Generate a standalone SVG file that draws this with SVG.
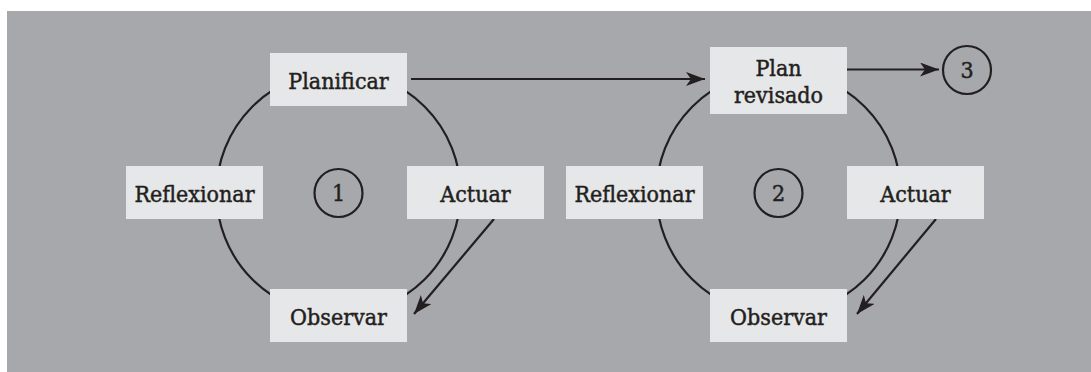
<svg xmlns="http://www.w3.org/2000/svg" width="1091" height="372" viewBox="0 0 1091 372">
<style>
.box{fill:#e6e7e8;}
.t{font-family:"DejaVu Serif Condensed","DejaVu Serif",serif;font-stretch:condensed;font-size:23px;fill:#231f20;stroke:#231f20;stroke-width:0.45;text-anchor:middle;}
.ring{fill:none;stroke:#231f20;stroke-width:2.2;}
.num{fill:none;stroke:#231f20;stroke-width:2.2;}
.arr{fill:none;stroke:#231f20;stroke-width:2.2;marker-end:url(#ah);}
</style>
<defs>
<marker id="ah" markerUnits="userSpaceOnUse" markerWidth="20" markerHeight="14" viewBox="0 0 20 14" refX="19" refY="7" orient="auto">
<path d="M0,0 L19,7 L0,14 L5,7 Z" fill="#231f20"/>
</marker>
</defs>
<rect x="7" y="11" width="1084" height="361" fill="#a7a8ab"/>
<g id="cycle1-ring"><circle class="ring" cx="338.5" cy="193" r="122"/></g>
<g id="cycle2-ring"><circle class="ring" cx="778.5" cy="193" r="122"/></g>
<g id="connectors">
<line class="arr" x1="411" y1="79" x2="705" y2="79"/>
<line class="arr" x1="814" y1="69.5" x2="939" y2="69.5"/>
<line class="arr" x1="494" y1="219" x2="414" y2="314"/>
<line class="arr" x1="936" y1="219" x2="857" y2="314"/>
</g>
<g id="planificar"><rect class="box" x="270" y="53" width="137" height="53"/><text class="t" x="338.5" y="89">Planificar</text></g>
<g id="reflexionar1"><rect class="box" x="126" y="166" width="137" height="53"/><text class="t" x="194.5" y="201.5">Reflexionar</text></g>
<g id="actuar1"><rect class="box" x="407" y="166" width="137" height="53"/><text class="t" x="475.5" y="201.5">Actuar</text></g>
<g id="observar1"><rect class="box" x="270" y="289" width="137" height="53"/><text class="t" x="338.5" y="325">Observar</text></g>
<g id="c1"><circle class="num" cx="338.5" cy="193" r="24"/><text class="t" x="338.5" y="200.5">1</text></g>
<g id="plan-revisado"><rect class="box" x="710" y="47" width="137" height="67"/><text class="t" x="778.5" y="76">Plan</text><text class="t" x="778.5" y="103">revisado</text></g>
<g id="reflexionar2"><rect class="box" x="566" y="166" width="137" height="53"/><text class="t" x="634.5" y="201.5">Reflexionar</text></g>
<g id="actuar2"><rect class="box" x="847" y="166" width="137" height="53"/><text class="t" x="915.5" y="201.5">Actuar</text></g>
<g id="observar2"><rect class="box" x="710" y="289" width="137" height="53"/><text class="t" x="778.5" y="325">Observar</text></g>
<g id="c2"><circle class="num" cx="778.5" cy="193" r="24"/><text class="t" x="778.5" y="200.5">2</text></g>
<g id="c3"><circle class="num" cx="967" cy="70" r="24"/><text class="t" x="967" y="77.5">3</text></g>
</svg>
